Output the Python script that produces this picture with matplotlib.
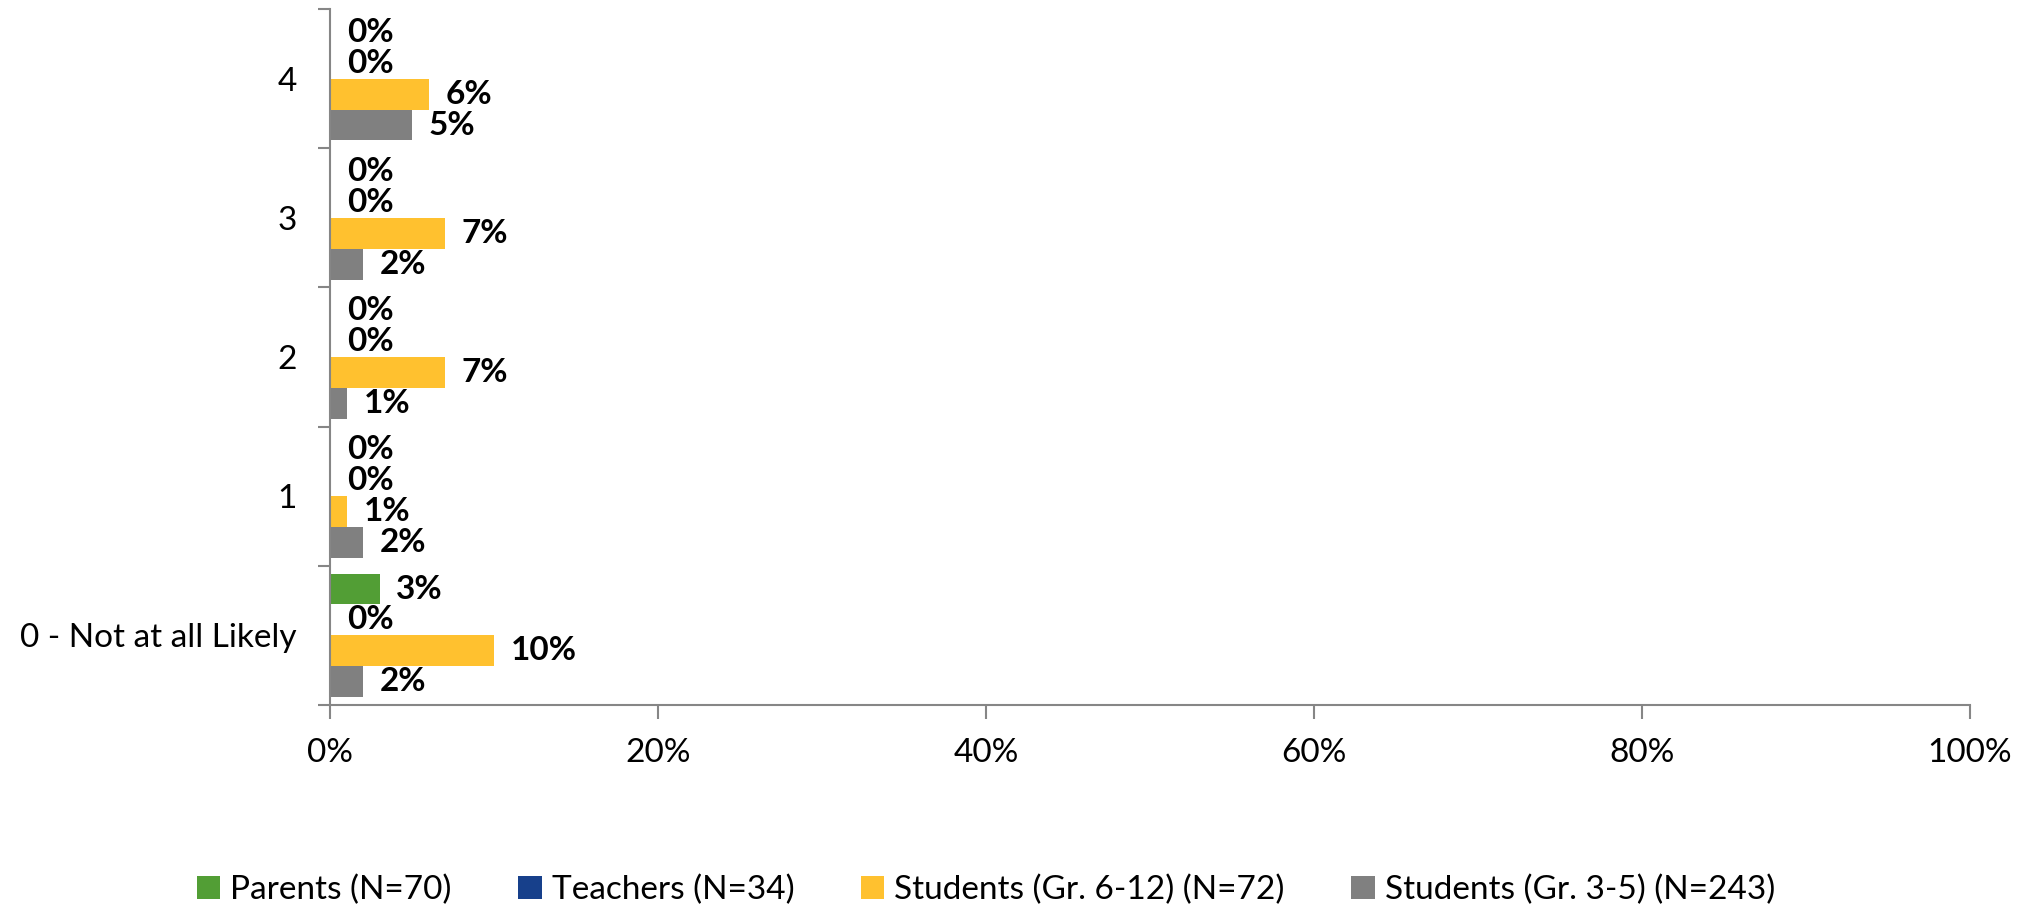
import matplotlib
matplotlib.use("Agg")
import matplotlib.pyplot as plt
import numpy as np

# survey answers, bottom row first
categories = ["0 - Not at all Likely", "1", "2", "3", "4"]
series_names = ["Parents (N=70)", "Teachers (N=34)",
                "Students (Gr. 6-12) (N=72)", "Students (Gr. 3-5) (N=243)"]
parents = [3, 0, 0, 0, 0]
teachers = [0, 0, 0, 0, 0]
students_6_12 = [10, 1, 7, 7, 6]
students_3_5 = [2, 2, 1, 2, 5]
x_ticks = [0, 20, 40, 60, 80, 100]

colors = ["#529E35", "#17408B", "#FFC12F", "#808080"]

plt.rcParams['font.family'] = ['Lato', 'DejaVu Sans']

fig = plt.figure(figsize=(20.33, 9.10), dpi=100)
ax = fig.add_axes([0.1625, 0.2253, 0.8065, 0.7647])

y = np.arange(len(categories))
h = 0.222
offsets = [1.5 * h, 0.5 * h, -0.5 * h, -1.5 * h]
all_series = [parents, teachers, students_6_12, students_3_5]

for vals, off, col, name in zip(all_series, offsets, colors, series_names):
    bars = ax.barh(y + off, vals, height=h, color=col, label=name)
    for b, v in zip(bars, vals):
        ax.annotate(f"{v}%", (v, b.get_y() + b.get_height() / 2),
                    xytext=(12, 0), textcoords="offset points",
                    ha="left", va="center", fontsize=24, fontweight="bold")

ax.set_xlim(0, 100)
ax.set_ylim(-0.5, len(categories) - 0.5)
ax.set_xticks(x_ticks)
ax.set_xticklabels([f"{t}%" for t in x_ticks])
ax.set_yticks(y)
ax.set_yticklabels(categories)
ax.set_yticks(np.arange(len(categories) + 1) - 0.5, minor=True)

for s in ["top", "right"]:
    ax.spines[s].set_visible(False)
for s in ["left", "bottom"]:
    ax.spines[s].set_color("#868686")
    ax.spines[s].set_linewidth(1.5)

ax.tick_params(axis="y", which="major", length=0, pad=24, labelsize=24)
ax.tick_params(axis="y", which="minor", length=9, width=1.5, color="#868686")
ax.tick_params(axis="x", length=10, width=1.5, color="#868686", pad=14, labelsize=24)

fig.legend(loc="center", bbox_to_anchor=(0.485, 0.022), ncol=4, frameon=False,
           fontsize=24, handlelength=0.7, handleheight=0.7, handletextpad=0.3,
           columnspacing=2.0)

fig.savefig("out.png", dpi=100)
